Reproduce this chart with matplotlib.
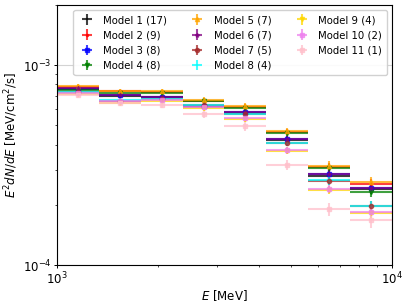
import numpy as np
import matplotlib
matplotlib.use("Agg")
import matplotlib.pyplot as plt

# Energy bin edges (MeV)
bin_edges = [1000, 1334, 1778, 2371, 3162, 4217, 5623, 7499, 10000]

labels = ["Model 1 (17)", "Model 2 (9)", "Model 3 (8)", "Model 4 (8)",
          "Model 5 (7)", "Model 6 (7)", "Model 7 (5)", "Model 8 (4)",
          "Model 9 (4)", "Model 10 (2)", "Model 11 (1)"]

# E^2 dN/dE values in units of 1e-3 MeV/cm^2/s
m1 = [0.755, 0.700, 0.690, 0.615, 0.575, 0.420, 0.280, 0.240]
m2 = [0.780, 0.738, 0.735, 0.665, 0.618, 0.463, 0.310, 0.255]
m3 = [0.762, 0.706, 0.695, 0.622, 0.582, 0.425, 0.284, 0.243]
m4 = [0.750, 0.722, 0.722, 0.665, 0.612, 0.455, 0.305, 0.233]
m5 = [0.788, 0.744, 0.741, 0.672, 0.624, 0.468, 0.314, 0.260]
m6 = [0.765, 0.708, 0.696, 0.624, 0.584, 0.426, 0.285, 0.243]
m7 = [0.730, 0.665, 0.678, 0.632, 0.570, 0.408, 0.264, 0.197]
m8 = [0.733, 0.668, 0.680, 0.635, 0.572, 0.409, 0.265, 0.198]
m9 = [0.714, 0.649, 0.663, 0.607, 0.537, 0.373, 0.238, 0.182]
m10 = [0.722, 0.661, 0.668, 0.617, 0.541, 0.374, 0.240, 0.185]
m11 = [0.708, 0.646, 0.631, 0.569, 0.493, 0.318, 0.191, 0.168]
series = [m1, m2, m3, m4, m5, m6, m7, m8, m9, m10, m11]

# relative uncertainties
rel_err = [0.02, 0.02, 0.02, 0.025, 0.03, 0.04, 0.05, 0.06]
rel_err_m11 = [0.03, 0.03, 0.03, 0.04, 0.05, 0.06, 0.075, 0.085]

colors = ["black", "red", "blue", "green", "orange", "purple", "brown",
          "cyan", "gold", "violet", "pink"]
markers = ["", ".", "s", "v", "^", "*", "o", "", "v", "s", "s"]

edges = np.array(bin_edges, dtype=float)
centers = np.sqrt(edges[:-1] * edges[1:])
xlo = centers - edges[:-1]
xhi = edges[1:] - centers

fig = plt.figure(figsize=(4.07, 3.05), dpi=100)
ax = fig.add_axes([0.14, 0.131, 0.823, 0.853])

for i, (vals, lab, c, m) in enumerate(zip(series, labels, colors, markers)):
    y = np.array(vals) * 1e-3
    re = np.array(rel_err_m11 if i == 10 else rel_err)
    ax.errorbar(centers, y, xerr=[xlo, xhi], yerr=y * re, fmt=m if m else "none",
                color=c, ecolor=c, markersize=3, elinewidth=1.5,
                alpha=0.75, label=lab, linestyle="none")

ax.set_xscale("log")
ax.set_yscale("log")
ax.set_xlim(1e3, 1e4)
ax.set_ylim(1e-4, 2e-3)
ax.grid(True, which="major", color="lightgray", linewidth=0.8)
ax.set_xlabel("$E$ [MeV]", fontsize=8.5, labelpad=0.5)
ax.set_ylabel("$E^2dN/dE$ [MeV/cm$^2$/s]", fontsize=8.5, labelpad=2)
ax.tick_params(which="major", labelsize=8.5, length=2.5, width=0.7, pad=1.5)
ax.tick_params(which="minor", length=1.5, width=0.5)
for s in ax.spines.values():
    s.set_linewidth(0.8)
ax.legend(ncol=3, loc="upper right", fontsize=7.3, handlelength=1.6,
          columnspacing=2.2, labelspacing=0.5, borderpad=0.5,
          framealpha=0.9)

fig.savefig("out.png", dpi=100)
